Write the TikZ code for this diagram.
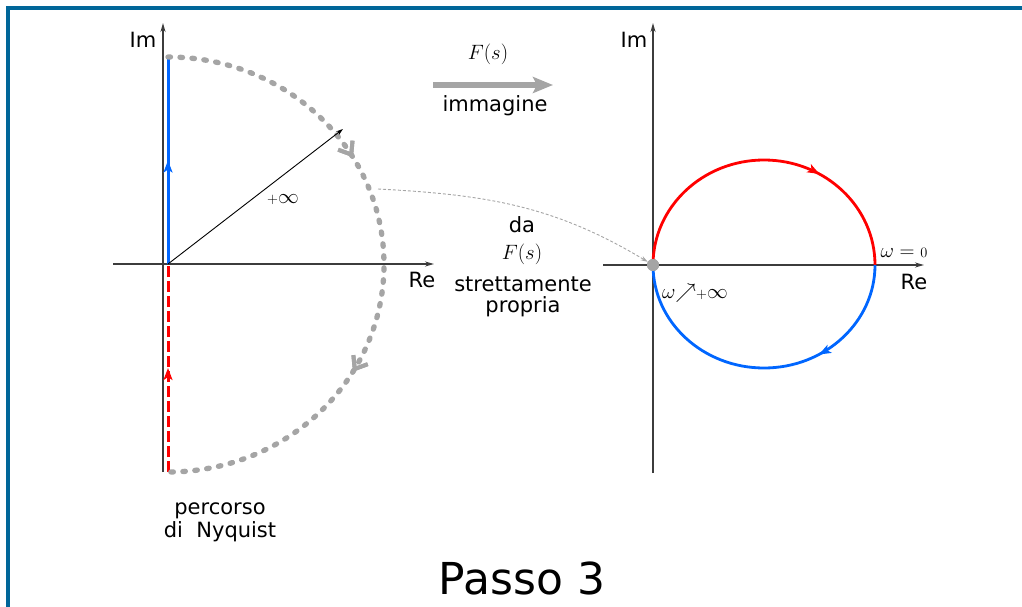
\documentclass[tikz,border=0pt]{standalone}
\usepackage{fontspec}
\setsansfont{DejaVu Sans}
\usetikzlibrary{arrows.meta,decorations.markings}
\definecolor{framec}{RGB}{0,102,153}
\definecolor{pblue}{RGB}{0,102,255}
\definecolor{pred}{RGB}{255,0,0}
\definecolor{pgray}{RGB}{165,165,165}
\definecolor{axc}{RGB}{60,60,60}
\begin{document}
\begin{tikzpicture}[x=1pt,y=1pt,
  lab/.style={font=\sffamily\fontsize{21}{23}\selectfont, inner sep=0pt},
  mlab/.style={font=\fontsize{21}{24}\selectfont, inner sep=0pt},
  flab/.style={font=\fontsize{22.5}{25}\selectfont, inner sep=0pt},
  axisline/.style={axc, line width=1.6pt, -{Stealth[length=9pt,width=5pt]}},
  midarrow/.style={postaction={decorate}, decoration={markings,
     mark=at position #1 with {\arrow{Stealth[length=12pt,width=9pt,inset=3pt]}}}},
  grayarrow/.style={postaction={decorate}, decoration={markings,
     mark=at position #1 with {\arrow{Straight Barb[length=11pt,width=17pt,line width=4pt]}}}},
  dottedgray/.style={pgray, line width=5.3pt, line cap=round, dash pattern=on 2.5pt off 9.5pt},
]
\useasboundingbox (0,0) rectangle (1022,606);
% frame
\draw[framec, line width=4pt] (8,-5) -- (8,598) -- (1030,598);

% ---------- left plane ----------
\coordinate (O1) at (168,342);
\coordinate (imB1) at (163,134);
\coordinate (imT1) at (163,583);
\coordinate (reL1) at (113,342);
\coordinate (reR1) at (434,342);
\draw[axisline] (imB1) -- (imT1);
\draw[axisline] (reL1) -- (reR1);
\node[lab] (im1) at (143,566) {Im};
\node[lab] (re1) at (422,326) {Re};

\coordinate (top1) at (168,549);
\coordinate (bot1) at (168,134);
\draw[pblue, line width=3pt, midarrow=0.5] (O1) -- (top1);
\draw[pred, line width=3pt, dash pattern=on 11pt off 4pt, midarrow=0.5] (bot1) -- (O1);

\draw[dottedgray, grayarrow=0.33, grayarrow=0.67]
  (top1) arc[start angle=90, end angle=-90, x radius=216, y radius=207.5];

\coordinate (rad) at (343,477);
\draw[black, line width=0.9pt, -{Stealth[length=7pt,width=4.5pt]}] (O1) -- (rad);
\node[flab] (inf1) at (283,406) {${\scriptstyle +}\infty$};

% ---------- middle ----------
\coordinate (ta) at (433,521);
\coordinate (tb) at (553,521);
\draw[pgray, line width=6pt, -{Stealth[length=20pt,width=16pt,inset=4pt]}] (ta) -- (tb);
\node[flab] (fs1) at (488,552) {$F(s)$};
\node[lab] (imm) at (495,500) {immagine};

\node[lab] (da) at (522,381) {da};
\node[flab] (fs2) at (522,352) {$F(s)$};
\node[lab, anchor=base] (str) at (523,315) {strettamente};
\node[lab, anchor=base] (prop) at (523,294) {propria};

\node[lab, align=center] (perc) at (220,84) {percorso\\di\ \ Nyquist};

% ---------- right plane ----------
\coordinate (imB2) at (653,133);
\coordinate (imT2) at (653,583);
\coordinate (reL2) at (603,341);
\coordinate (reR2) at (924,341);
\draw[axisline] (imB2) -- (imT2);
\draw[axisline] (reL2) -- (reR2);
\node[lab] (im2) at (634,566) {Im};
\node[lab] (re2) at (914,324) {Re};

\node[circle, fill=pgray, minimum size=12pt, inner sep=0pt] (dot) at (653,341) {};
\coordinate (w0) at (875,341);
\draw[pred, line width=2.8pt, midarrow=0.67]
  (dot.center) arc[start angle=180, end angle=0, x radius=111, y radius=105];
\draw[pblue, line width=2.8pt, midarrow=0.33]
  (w0) arc[start angle=0, end angle=-180, x radius=111, y radius=103];
\fill[pgray] (dot) circle[radius=6pt];

\node[mlab] (wz) at (904,353) {$\omega={\scriptstyle 0}$};
\node[mlab] (winf) at (695,313) {$\omega\mathord{\nearrow}{\scriptstyle +}\infty$};

% dashed connector
\coordinate (src) at (378,417);
\draw[pgray, line width=0.9pt, dash pattern=on 3pt off 2pt, -{Stealth[length=7pt,width=4.5pt]}]
  (src) to[out=-3, in=149] (dot);

\node[font=\sffamily\fontsize{44}{48}\selectfont, inner sep=0pt] (passo) at (522,28) {Passo 3};
\end{tikzpicture}
\end{document}
